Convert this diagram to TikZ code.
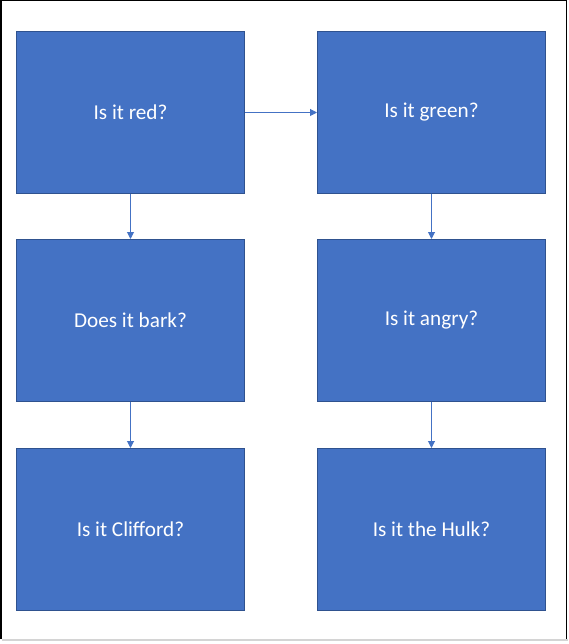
\documentclass[tikz,border=0pt]{standalone}
\usepackage{fontspec}
\setmainfont{Carlito}
\usetikzlibrary{arrows.meta}
\definecolor{boxfill}{HTML}{4472C4}
\definecolor{boxline}{HTML}{2F528F}
\definecolor{frameg}{HTML}{D4D4D4}
\begin{document}
\begin{tikzpicture}[x=1pt,y=-1pt,
  qbox/.style={draw=boxline, line width=1pt, fill=boxfill, text=white,
    minimum width=228pt, minimum height=162pt, inner sep=0pt, anchor=north west,
    font=\fontsize{21.2pt}{25pt}\selectfont},
  conn/.style={draw=boxfill, line width=1pt, -{Triangle[length=7pt,width=7pt]}}]
\useasboundingbox (0,0) rectangle (568,644);
\draw[black, line width=1.5pt] (0.75,639) -- (0.75,0.75) -- (566.5,0.75) -- (566.5,639);
\draw[frameg, line width=2pt] (1.5,640) -- (568,640);
\node[qbox] (red) at (16,31) {Is it red?};
\node[qbox] (green) at (317,31) {Is it green?};
\node[qbox] (bark) at (16,239) {Does it bark?};
\node[qbox] (angry) at (317,239) {Is it angry?};
\node[qbox] (clifford) at (16,448) {Is it Clifford?};
\node[qbox] (hulk) at (317,448) {Is it the Hulk?};
\draw[conn] (red.east) -- (green.west);
\draw[conn] (red.south) -- (bark.north);
\draw[conn] (bark.south) -- (clifford.north);
\draw[conn] (green.south) -- (angry.north);
\draw[conn] (angry.south) -- (hulk.north);
\end{tikzpicture}
\end{document}
